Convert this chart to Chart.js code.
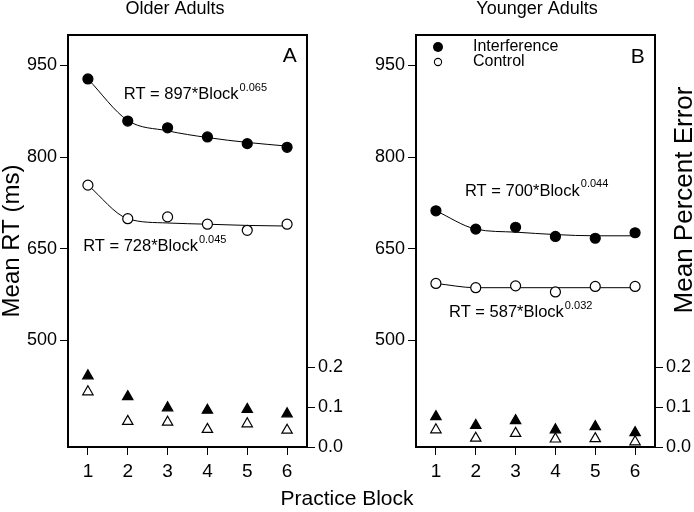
<!DOCTYPE html>
<html>
<head>
<meta charset="utf-8">
<script src="https://cdn.jsdelivr.net/npm/chart.js@4.4.0/dist/chart.umd.min.js"></script>
<style>
  html, body { margin: 0; padding: 0; background: #fff; }
  #wrap { position: relative; width: 694px; height: 512px; }
  #wrap canvas { position: absolute; left: 0; top: 0; }
</style>
</head>
<body>
<div id="wrap">
  <canvas id="chartA" width="694" height="512"></canvas>
  <canvas id="chartB" width="694" height="512"></canvas>
</div>
<script>
// ---- data ----
const blocks = [1, 2, 3, 4, 5, 6];
const rtTicks = [500, 650, 800, 950];
const errTicks = [0, 0.1, 0.2];

// Older adults (panel A)
const olderInterfRT    = [928, 859, 848, 833, 822, 816];
const olderControlRT   = [754, 699, 702, 690, 680, 690];
const olderInterfFit   = [928, 860, 843, 832, 824, 818];
const olderControlFit  = [754, 699, 692, 690, 688, 687];
const olderInterfErr   = [0.178, 0.126, 0.098, 0.092, 0.094, 0.083];
const olderControlErr  = [0.138, 0.064, 0.062, 0.044, 0.058, 0.042];

// Younger adults (panel B)
const youngerInterfRT   = [712, 682, 685, 670, 667, 676];
const youngerControlRT  = [593, 586, 589, 579, 588, 588];
const youngerInterfFit  = [712, 682, 677, 673, 671, 671];
const youngerControlFit = [593, 586, 586, 586, 586, 586];
const youngerInterfErr  = [0.076, 0.054, 0.066, 0.043, 0.051, 0.036];
const youngerControlErr = [0.043, 0.022, 0.034, 0.020, 0.021, 0.013];

const FONT = '"Liberation Sans", Arial, Helvetica, sans-serif';

function pts(vals) {
    return blocks.map((b, i) => ({ x: b, y: vals[i] }));
}

function fitDs(vals) {
    return {
        data: pts(vals), showLine: true, yAxisID: 'y',
        borderColor: '#000', borderWidth: 1, pointRadius: 0,
        cubicInterpolationMode: 'monotone', order: 10
    };
}

function markDs(label, vals, style, filled, axis) {
    return {
        label: label, data: pts(vals), showLine: false, yAxisID: axis,
        pointStyle: style, pointRadius: style === 'triangle' ? 6 : 5,
        backgroundColor: filled ? '#000' : '#fff',
        borderColor: '#000', borderWidth: 1.2, order: 1
    };
}

// ---- box, labels, equations, legend ----
const panelPlugin = {
    id: 'panelText',
    afterDraw(chart, args, o) {
        const ctx = chart.ctx;
        const a = chart.chartArea;
        const sx = chart.scales.x, sy = chart.scales.y;
        ctx.save();
        ctx.strokeStyle = '#000';
        ctx.lineWidth = 2;
        ctx.strokeRect(a.left, a.top, a.right - a.left, a.bottom - a.top);

        ctx.fillStyle = '#000';
        ctx.textBaseline = 'middle';
        ctx.textAlign = 'center';
        ctx.font = '18px ' + FONT;
        ctx.fillText(o.title, o.titleX, 9);

        ctx.font = '21px ' + FONT;
        ctx.fillText(o.letter, sx.getPixelForValue(o.letterPos[0]), sy.getPixelForValue(o.letterPos[1]));

        // fitted power-function labels
        ctx.textAlign = 'left';
        o.eqs.forEach(e => {
            const px = sx.getPixelForValue(e.x);
            const py = sy.getPixelForValue(e.y);
            const main = 'RT = ' + e.coef + '*Block';
            ctx.font = '16.5px ' + FONT;
            ctx.fillText(main, px, py);
            const w = ctx.measureText(main).width;
            ctx.font = '11px ' + FONT;
            ctx.fillText(e.exp, px + w + 1, py - 7);
        });

        if (o.legend) {
            const lx = a.left + 22, ly = a.top + 12;
            ctx.beginPath();
            ctx.arc(lx, ly, 5, 0, Math.PI * 2);
            ctx.fill();
            ctx.beginPath();
            ctx.lineWidth = 1.1;
            ctx.arc(lx, ly + 15, 3.6, 0, Math.PI * 2);
            ctx.stroke();
            ctx.font = '16px ' + FONT;
            ctx.fillText('Interference', a.left + 57, ly);
            ctx.fillText('Control', a.left + 57, ly + 15);
        }

        // right axis title reads bottom-to-top, so drawn here
        if (o.rightTitle) {
            ctx.translate(685, 200);
            ctx.rotate(-Math.PI / 2);
            ctx.textAlign = 'center';
            ctx.font = '26px ' + FONT;
            ctx.fillText(o.rightTitle, 0, 0);
        }
        ctx.restore();
    }
};

function makeConfig(p) {
    return {
        type: 'scatter',
        data: {
            datasets: [
                fitDs(p.interfFit), fitDs(p.controlFit),
                markDs('Interference', p.interfRT, 'circle', true, 'y'),
                markDs('Control', p.controlRT, 'circle', false, 'y'),
                markDs('Interference error', p.interfErr, 'triangle', true, 'y2'),
                markDs('Control error', p.controlErr, 'triangle', false, 'y2')
            ]
        },
        options: {
            responsive: false,
            animation: false,
            devicePixelRatio: 1,
            layout: { padding: p.padding },
            plugins: {
                legend: { display: false },
                tooltip: { enabled: false },
                panelText: p.text
            },
            scales: {
                x: {
                    type: 'linear', min: 0.5, max: 6.5,
                    afterBuildTicks: s => { s.ticks = blocks.map(v => ({ value: v })); },
                    afterFit: s => { s.height = 40; },
                    grid: { drawOnChartArea: false, drawTicks: true, tickLength: 8, color: '#000' },
                    border: { display: false },
                    ticks: { color: '#000', font: { family: FONT, size: 19 }, padding: 5, maxRotation: 0 }
                },
                y: {
                    position: 'left', min: 325, max: 1000,
                    afterBuildTicks: s => { s.ticks = rtTicks.map(v => ({ value: v })); },
                    afterFit: s => { s.width = 68; },
                    grid: { drawOnChartArea: false, drawTicks: true, tickLength: 8, color: '#000' },
                    border: { display: false },
                    ticks: { color: '#000', font: { family: FONT, size: 18 }, padding: 3 },
                    title: {
                        display: p.leftTitle, text: 'Mean RT (ms)', color: '#000',
                        font: { family: FONT, size: 24, lineHeight: 1 }, padding: 0
                    }
                },
                y2: {
                    position: 'right', min: 0, max: 1.03,
                    afterBuildTicks: s => { s.ticks = errTicks.map(v => ({ value: v })); },
                    afterFit: s => { s.width = p.rightWidth; },
                    grid: { drawOnChartArea: false, drawTicks: true, tickLength: 8, color: '#000' },
                    border: { display: false },
                    ticks: {
                        color: '#000', font: { family: FONT, size: 18 }, padding: 3,
                        callback: v => v.toFixed(1)
                    }
                }
            }
        },
        plugins: [panelPlugin]
    };
}

new Chart(document.getElementById('chartA'), makeConfig({
    interfRT: olderInterfRT, controlRT: olderControlRT,
    interfFit: olderInterfFit, controlFit: olderControlFit,
    interfErr: olderInterfErr, controlErr: olderControlErr,
    padding: { left: 0, right: 347, top: 35, bottom: 25 },
    rightWidth: 40,
    leftTitle: true,
    text: {
        title: 'Older Adults', titleX: 175,
        letter: 'A', letterPos: [6.07, 966],
        eqs: [
            { x: 1.9, y: 902, coef: 897, exp: '0.065' },
            { x: 0.88, y: 653, coef: 728, exp: '0.045' }
        ],
        legend: false
    }
}));

new Chart(document.getElementById('chartB'), makeConfig({
    interfRT: youngerInterfRT, controlRT: youngerControlRT,
    interfFit: youngerInterfFit, controlFit: youngerControlFit,
    interfErr: youngerInterfErr, controlErr: youngerControlErr,
    padding: { left: 348, right: 0, top: 35, bottom: 25 },
    rightWidth: 39,
    leftTitle: false,
    text: {
        title: 'Younger Adults', titleX: 537,
        letter: 'B', letterPos: [6.07, 964],
        eqs: [
            { x: 1.73, y: 744, coef: 700, exp: '0.044' },
            { x: 1.33, y: 545, coef: 587, exp: '0.032' }
        ],
        legend: true,
        rightTitle: 'Mean Percent Error'
    }
}));
</script>
<div style="position:absolute; left:0; top:486px; width:694px; text-align:center; font:21px 'Liberation Sans', Arial, sans-serif; color:#000;">Practice Block</div>
</body>
</html>
